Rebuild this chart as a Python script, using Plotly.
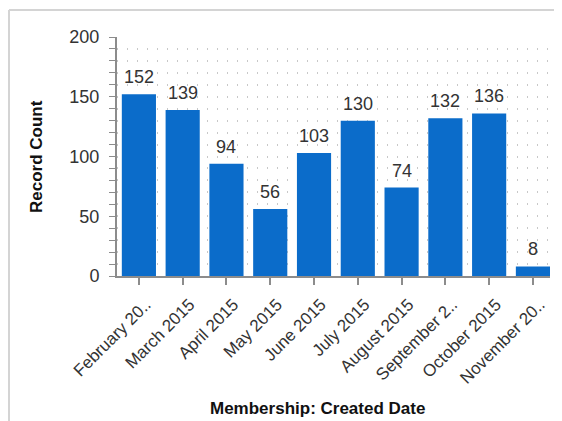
import plotly.graph_objects as go

categories = ["February 20..", "March 2015", "April 2015", "May 2015", "June 2015",
              "July 2015", "August 2015", "September 2..", "October 2015", "November 20.."]
record_count = [152, 139, 94, 56, 103, 130, 74, 132, 136, 8]

x_title = "Membership: Created Date"
y_title = "Record Count"

BAR = "#0b6cca"
FONT = "Liberation Sans, Arial, sans-serif"
TXT = "#333333"

fig = go.Figure(go.Bar(
    x=categories, y=record_count,
    marker=dict(color=BAR, line=dict(width=0)),
    width=0.78,
    hoverinfo="x+y",
))

for c, v in zip(categories, record_count):
    fig.add_annotation(x=c, y=v, text=str(v), showarrow=False,
                       yanchor="bottom", yshift=5,
                       font=dict(family=FONT, size=18, color=TXT))

# page body has an 8px margin, so the figure is offset by 8px
OFF = 8
W, H = 562 - OFF, 421 - OFF
L, R, T, B = 117 - OFF, 12, 37 - OFF, 421 - 276
pw = W - L - R
ph = H - T - B


def px(xp):
    return (xp - OFF - L) / pw


def py(yp):
    return (H - (yp - OFF) - B) / ph


fig.update_layout(
    width=W, height=H,
    margin=dict(l=L, r=R, t=T, b=B, autoexpand=False),
    paper_bgcolor="white", plot_bgcolor="white",
    showlegend=False,
    font=dict(family=FONT, size=18, color=TXT),
    xaxis=dict(
        range=[-0.5, 9.39],
        showline=True, linecolor="#8c8c8c", linewidth=2,
        ticks="outside", ticklen=7, tickcolor="#8c8c8c", tickwidth=2,
        tickangle=-45, showgrid=False, zeroline=False,
        ticklabelshift=7, ticklabelstandoff=3,
        tickfont=dict(family=FONT, size=17, color=TXT),
        automargin=False,
    ),
    yaxis=dict(
        range=[0, 200], dtick=50,
        showline=True, linecolor="#8c8c8c", linewidth=2,
        ticks="outside", ticklen=6, tickcolor="#8c8c8c", tickwidth=1,
        ticklabelstandoff=6,
        showgrid=True, gridcolor="#c8c8c8", griddash="1px,9px", gridwidth=2,
        zeroline=False,
        tickfont=dict(family=FONT, size=18, color=TXT),
        minor=dict(dtick=10, ticks="outside", ticklen=6, tickcolor="#8c8c8c",
                   showgrid=True, gridcolor="#c8c8c8", griddash="1px,9px", gridwidth=2),
        automargin=False,
    ),
    shapes=[
        dict(type="line", xref="paper", yref="paper",
             x0=px(9), x1=px(570), y0=py(10), y1=py(10),
             line=dict(color="#d4d4d4", width=2)),
        dict(type="line", xref="paper", yref="paper",
             x0=px(9), x1=px(9), y0=py(10), y1=py(430),
             line=dict(color="#d4d4d4", width=2)),
    ],
)

fig.add_annotation(text=f"<b>{x_title}</b>", xref="paper", yref="paper",
                   x=px(317), y=py(408), showarrow=False,
                   font=dict(family=FONT, size=17, color="#111111"),
                   xanchor="center", yanchor="middle")
fig.add_annotation(text=f"<b>{y_title}</b>", xref="paper", yref="paper",
                   x=px(36), y=py(157), showarrow=False, textangle=-90,
                   font=dict(family=FONT, size=17, color="#111111"),
                   xanchor="center", yanchor="middle")

fig.write_html("out.html")
